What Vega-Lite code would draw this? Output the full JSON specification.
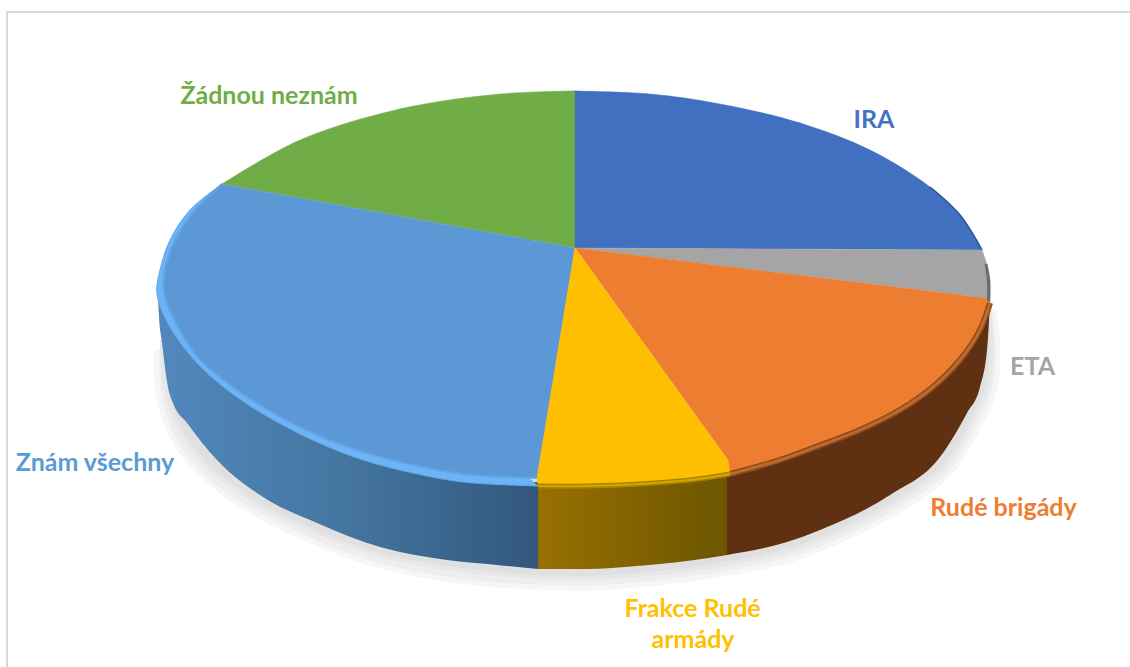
{"$schema":"https://vega.github.io/schema/vega-lite/v6.json","width":1130,"height":667,"padding":0,"autosize":{"type":"none"},"background":"white","config":{"view":{"stroke":null}},
"datasets":{"outlines":[
{"part":"frame","i":0,"x":138.75,"y":118},{"part":"frame","i":1,"x":-142,"y":118},{"part":"frame","i":2,"x":-142,"y":-209.5},
{"part":"shadowOuter","i":0,"x":-104.5,"y":-51},{"part":"shadowOuter","i":1,"x":-104.25,"y":-71},{"part":"shadowOuter","i":2,"x":-100.75,"y":-94.5},{"part":"shadowOuter","i":3,"x":-92.75,"y":-114.5},{"part":"shadowOuter","i":4,"x":-80.25,"y":-132.5},{"part":"shadowOuter","i":5,"x":-66,"y":-146.5},{"part":"shadowOuter","i":6,"x":-49.5,"y":-158.5},{"part":"shadowOuter","i":7,"x":-32.5,"y":-165.5},{"part":"shadowOuter","i":8,"x":-19.5,"y":-168.5},{"part":"shadowOuter","i":9,"x":-9.25,"y":-169.5},{"part":"shadowOuter","i":10,"x":3,"y":-170},{"part":"shadowOuter","i":11,"x":15.5,"y":-168.5},{"part":"shadowOuter","i":12,"x":28.75,"y":-165.5},{"part":"shadowOuter","i":13,"x":38.75,"y":-162.5},{"part":"shadowOuter","i":14,"x":53.75,"y":-156},{"part":"shadowOuter","i":15,"x":63.75,"y":-148.5},{"part":"shadowOuter","i":16,"x":80,"y":-132.5},{"part":"shadowOuter","i":17,"x":93.75,"y":-112.5},{"part":"shadowOuter","i":18,"x":100.75,"y":-90},{"part":"shadowOuter","i":19,"x":104.5,"y":-73.5},{"part":"shadowOuter","i":20,"x":105.75,"y":-51},{"part":"shadowOuter","i":21,"x":104.5,"y":-31},
{"part":"shadowInner","i":0,"x":-103.25,"y":-46},{"part":"shadowInner","i":1,"x":-102.5,"y":-68.5},{"part":"shadowInner","i":2,"x":-98.75,"y":-91},{"part":"shadowInner","i":3,"x":-90.75,"y":-111},{"part":"shadowInner","i":4,"x":-78.75,"y":-128.5},{"part":"shadowInner","i":5,"x":-64.75,"y":-142},{"part":"shadowInner","i":6,"x":-48.75,"y":-153.5},{"part":"shadowInner","i":7,"x":-32,"y":-160},{"part":"shadowInner","i":8,"x":-19.5,"y":-163},{"part":"shadowInner","i":9,"x":-9.25,"y":-164.5},{"part":"shadowInner","i":10,"x":3,"y":-165},{"part":"shadowInner","i":11,"x":15.5,"y":-163.5},{"part":"shadowInner","i":12,"x":28,"y":-161},{"part":"shadowInner","i":13,"x":38,"y":-158},{"part":"shadowInner","i":14,"x":53,"y":-151.5},{"part":"shadowInner","i":15,"x":62.5,"y":-144.5},{"part":"shadowInner","i":16,"x":78.75,"y":-128.5},{"part":"shadowInner","i":17,"x":92.5,"y":-108.5},{"part":"shadowInner","i":18,"x":99.25,"y":-86},{"part":"shadowInner","i":19,"x":102.75,"y":-71},{"part":"shadowInner","i":20,"x":104.25,"y":-51},{"part":"shadowInner","i":21,"x":103.75,"y":-31},
{"part":"greenCore","i":0,"x":0,"y":0},{"part":"greenCore","i":1,"x":0,"y":78.5},{"part":"greenCore","i":2,"x":-43.75,"y":69.5},{"part":"greenCore","i":3,"x":-88.25,"y":32},
{"part":"Žádnou neznám","i":1,"x":0,"y":78.5},{"part":"Žádnou neznám","i":2,"x":-18.75,"y":77},{"part":"Žádnou neznám","i":3,"x":-43.75,"y":69.5},{"part":"Žádnou neznám","i":4,"x":-68.75,"y":54},{"part":"Žádnou neznám","i":5,"x":-88.25,"y":32},
{"part":"iraCore","i":0,"x":0,"y":0},{"part":"iraCore","i":1,"x":0,"y":78.5},{"part":"iraCore","i":2,"x":56.25,"y":62.5},{"part":"iraCore","i":3,"x":101.75,"y":-1},
{"part":"IRA","i":1,"x":0,"y":78.5},{"part":"IRA","i":2,"x":18.75,"y":77},{"part":"IRA","i":3,"x":36.25,"y":72},{"part":"IRA","i":4,"x":56.25,"y":62.5},{"part":"IRA","i":5,"x":73.75,"y":49},{"part":"IRA","i":6,"x":88.75,"y":30.5},{"part":"IRA","i":7,"x":96.25,"y":16.5},{"part":"IRA","i":8,"x":101.75,"y":-1},
{"part":"iraEdge","i":0,"x":88.75,"y":30.5},{"part":"iraEdge","i":1,"x":96.25,"y":16.5},{"part":"iraEdge","i":2,"x":101.75,"y":-1},
{"part":"etaCore","i":0,"x":0,"y":0},{"part":"etaCore","i":1,"x":101.75,"y":-1},{"part":"etaCore","i":2,"x":103.75,"y":-16},{"part":"etaCore","i":3,"x":103.75,"y":-27.5},{"part":"etaCore","i":4,"x":102.5,"y":-25},
{"part":"ETA","i":1,"x":101.75,"y":-1},{"part":"ETA","i":2,"x":103,"y":-8.5},{"part":"ETA","i":3,"x":103.75,"y":-16},{"part":"ETA","i":4,"x":103.75,"y":-27.5},
{"part":"greyEdge","i":0,"x":102.75,"y":-8},{"part":"greyEdge","i":1,"x":103.35,"y":-16},{"part":"greyEdge","i":2,"x":103.35,"y":-27},
{"part":"orangeCore","i":0,"x":0,"y":0},{"part":"orangeCore","i":1,"x":102.5,"y":-25},{"part":"orangeCore","i":2,"x":103.75,"y":-27.5},{"part":"orangeCore","i":3,"x":81.25,"y":-81},{"part":"orangeCore","i":4,"x":38.75,"y":-113},{"part":"orangeCore","i":5,"x":38.25,"y":-106},
{"part":"Rudé brigády","i":1,"x":103.75,"y":-27.5},{"part":"Rudé brigády","i":2,"x":101.25,"y":-41},{"part":"Rudé brigády","i":3,"x":96.25,"y":-56},{"part":"Rudé brigády","i":4,"x":89.5,"y":-69.5},{"part":"Rudé brigády","i":5,"x":81.25,"y":-81},{"part":"Rudé brigády","i":6,"x":71.25,"y":-91},{"part":"Rudé brigády","i":7,"x":59.5,"y":-100},{"part":"Rudé brigády","i":8,"x":51.25,"y":-106},{"part":"Rudé brigády","i":9,"x":38.75,"y":-113},
{"part":"yellowCore","i":0,"x":0,"y":0},{"part":"yellowCore","i":1,"x":-9.5,"y":-115},{"part":"yellowCore","i":2,"x":-9.25,"y":-119},{"part":"yellowCore","i":3,"x":16.25,"y":-118},{"part":"yellowCore","i":4,"x":38.75,"y":-113},{"part":"yellowCore","i":5,"x":38.25,"y":-106},
{"part":"Frakce Rudé armády","i":1,"x":-9.25,"y":-119},{"part":"Frakce Rudé armády","i":2,"x":3,"y":-119},{"part":"Frakce Rudé armády","i":3,"x":16.25,"y":-118},{"part":"Frakce Rudé armády","i":4,"x":28.75,"y":-116},{"part":"Frakce Rudé armády","i":5,"x":38.75,"y":-113},
{"part":"blueCore","i":0,"x":0,"y":0},{"part":"blueCore","i":1,"x":-88.25,"y":32},{"part":"blueCore","i":2,"x":-86.25,"y":-68.5},{"part":"blueCore","i":3,"x":-9.25,"y":-115},{"part":"blueCore","i":4,"x":-9.5,"y":-115},
{"part":"bevelOuter","i":1,"x":-88.25,"y":32},{"part":"bevelOuter","i":2,"x":-96.25,"y":19},{"part":"bevelOuter","i":3,"x":-101.25,"y":4},{"part":"bevelOuter","i":4,"x":-103.75,"y":-11},{"part":"bevelOuter","i":5,"x":-104.5,"y":-23},{"part":"bevelOuter","i":6,"x":-101.25,"y":-39.5},{"part":"bevelOuter","i":7,"x":-94.5,"y":-57.5},{"part":"bevelOuter","i":8,"x":-86.25,"y":-72},{"part":"bevelOuter","i":9,"x":-76.25,"y":-85},{"part":"bevelOuter","i":10,"x":-64.5,"y":-97},{"part":"bevelOuter","i":11,"x":-53,"y":-106},{"part":"bevelOuter","i":12,"x":-40.5,"y":-112.5},{"part":"bevelOuter","i":13,"x":-28,"y":-117},{"part":"bevelOuter","i":14,"x":-9.25,"y":-119},
{"part":"Znám všechny","i":1,"x":-88.25,"y":32},{"part":"Znám všechny","i":2,"x":-95,"y":19},{"part":"Znám všechny","i":3,"x":-100,"y":4},{"part":"Znám všechny","i":4,"x":-102.75,"y":-13.5},{"part":"Znám všechny","i":5,"x":-102.5,"y":-24.5},{"part":"Znám všechny","i":6,"x":-99.5,"y":-38.5},{"part":"Znám všechny","i":7,"x":-94.5,"y":-54},{"part":"Znám všechny","i":8,"x":-86.25,"y":-68.5},{"part":"Znám všechny","i":9,"x":-76.25,"y":-81.5},{"part":"Znám všechny","i":10,"x":-64.5,"y":-93.5},{"part":"Znám všechny","i":11,"x":-53,"y":-102},{"part":"Znám všechny","i":12,"x":-40.5,"y":-108.5},{"part":"Znám všechny","i":13,"x":-28,"y":-113},{"part":"Znám všechny","i":14,"x":-9.25,"y":-115}
],
"walls":[
{"part":"blueWall","x":-104.25,"y":-24.5,"y2":-24.5},{"part":"blueWall","x":-104,"y":-26,"y2":-34.5},{"part":"blueWall","x":-103.25,"y":-28.5,"y2":-47.5},{"part":"blueWall","x":-101.75,"y":-36,"y2":-69.5},{"part":"blueWall","x":-100.5,"y":-42,"y2":-77.5},{"part":"blueWall","x":-97,"y":-48.5,"y2":-87.5},{"part":"blueWall","x":-89.5,"y":-63.5,"y2":-106},{"part":"blueWall","x":-78,"y":-81,"y2":-124.5},{"part":"blueWall","x":-64.5,"y":-93.5,"y2":-137.5},{"part":"blueWall","x":-48.75,"y":-105,"y2":-149.5},{"part":"blueWall","x":-32,"y":-113.5,"y2":-156},{"part":"blueWall","x":-19.5,"y":-117,"y2":-158.5},{"part":"blueWall","x":-9.25,"y":-117,"y2":-160.5},
{"part":"yellowWall","x":-9.25,"y":-115,"y2":-160.5},{"part":"yellowWall","x":3,"y":-115,"y2":-160.5},{"part":"yellowWall","x":15.5,"y":-114,"y2":-159},{"part":"yellowWall","x":28,"y":-112,"y2":-156.5},{"part":"yellowWall","x":38,"y":-109,"y2":-153.5},
{"part":"orangeWall","x":38,"y":-111,"y2":-153.5},{"part":"orangeWall","x":53,"y":-103.5,"y2":-147},{"part":"orangeWall","x":61.25,"y":-96,"y2":-141},{"part":"orangeWall","x":78.75,"y":-81,"y2":-123.5},{"part":"orangeWall","x":91.25,"y":-63.5,"y2":-104.5},{"part":"orangeWall","x":98,"y":-46,"y2":-82.5},{"part":"orangeWall","x":101.25,"y":-38.5,"y2":-69.5},{"part":"orangeWall","x":103,"y":-31,"y2":-51},{"part":"orangeWall","x":103.75,"y":-27.5,"y2":-27.5}
],
"labels":[
{"label":"IRA","x":74.75,"y":64.25},
{"label":"Žádnou neznám","x":-76.5,"y":76.25},
{"label":"ETA","x":114.375,"y":-59.25},
{"label":"Rudé brigády","x":107.125,"y":-129.75},
{"label":"Frakce Rudé","x":29.4,"y":-180.25},
{"label":"armády","x":29.5,"y":-195.75},
{"label":"Znám všechny","x":-120,"y":-107.25}
]},
"encoding":{
"x":{"field":"x","type":"quantitative","axis":null,"scale":{"domain":[-143.75,138.75],"nice":false,"zero":false}},
"y":{"field":"y","type":"quantitative","axis":null,"scale":{"domain":[-209.5,124],"nice":false,"zero":false}},
"order":{"field":"i","type":"quantitative"}},
"layer":[
{"data":{"name":"outlines"},"transform":[{"filter":{"field":"part","equal":"frame"}}],"mark":{"type":"line","stroke":"#d9d9d9","strokeWidth":2}},
{"data":{"name":"outlines"},"transform":[{"filter":{"field":"part","equal":"shadowOuter"}}],"mark":{"type":"line","interpolate":"catmull-rom","fill":"#eeeeee","stroke":"#f6f6f6","strokeWidth":5}},
{"data":{"name":"outlines"},"transform":[{"filter":{"field":"part","equal":"shadowInner"}}],"mark":{"type":"line","interpolate":"catmull-rom","fill":"#e0e0e0","stroke":"#e7e7e7","strokeWidth":4}},
{"data":{"name":"walls"},"transform":[{"filter":{"field":"part","equal":"orangeWall"}}],"mark":{"type":"area","interpolate":"monotone","fill":"#5f3012"},"encoding":{"order":null,"y2":{"field":"y2"}}},
{"data":{"name":"walls"},"transform":[{"filter":{"field":"part","equal":"yellowWall"}}],"mark":{"type":"area","interpolate":"monotone","fill":{"gradient":"linear","x1":0,"x2":1,"y1":0,"y2":0,"stops":[{"offset":0,"color":"#987000"},{"offset":1,"color":"#6c5600"}]}},"encoding":{"order":null,"y2":{"field":"y2"}}},
{"data":{"name":"walls"},"transform":[{"filter":{"field":"part","equal":"blueWall"}}],"mark":{"type":"area","interpolate":"monotone","fill":{"gradient":"linear","x1":0,"x2":1,"y1":0,"y2":0,"stops":[{"offset":0,"color":"#5288bd"},{"offset":0.5,"color":"#44759f"},{"offset":1,"color":"#32577e"}]}},"encoding":{"order":null,"y2":{"field":"y2"}}},
{"data":{"name":"outlines"},"transform":[{"filter":{"field":"part","equal":"greenCore"}}],"mark":{"type":"line","fill":"#70ad47","stroke":"#70ad47","strokeWidth":0.5}},
{"data":{"name":"outlines"},"transform":[{"filter":{"field":"part","equal":"Žádnou neznám"}}],"mark":{"type":"line","interpolate":"catmull-rom","fill":"#70ad47","stroke":"#70ad47","strokeWidth":0.5}},
{"data":{"name":"outlines"},"transform":[{"filter":{"field":"part","equal":"iraCore"}}],"mark":{"type":"line","fill":"#4170c0","stroke":"#4170c0","strokeWidth":0.5}},
{"data":{"name":"outlines"},"transform":[{"filter":{"field":"part","equal":"IRA"}}],"mark":{"type":"line","interpolate":"catmull-rom","fill":"#4170c0","stroke":"#4170c0","strokeWidth":0.5}},
{"data":{"name":"outlines"},"transform":[{"filter":{"field":"part","equal":"iraEdge"}}],"mark":{"type":"line","interpolate":"catmull-rom","stroke":"#2f5597","strokeWidth":1.5}},
{"data":{"name":"outlines"},"transform":[{"filter":{"field":"part","equal":"etaCore"}}],"mark":{"type":"line","fill":"#a5a5a5","stroke":"#a5a5a5","strokeWidth":0.5}},
{"data":{"name":"outlines"},"transform":[{"filter":{"field":"part","equal":"ETA"}}],"mark":{"type":"line","interpolate":"catmull-rom","fill":"#a5a5a5","stroke":"#a5a5a5","strokeWidth":0.5}},
{"data":{"name":"outlines"},"transform":[{"filter":{"field":"part","equal":"greyEdge"}}],"mark":{"type":"line","interpolate":"catmull-rom","stroke":"#5a5a5a","strokeWidth":3,"opacity":0.75}},
{"data":{"name":"outlines"},"transform":[{"filter":{"field":"part","equal":"orangeCore"}}],"mark":{"type":"line","fill":"#ed7d31","stroke":"#ed7d31","strokeWidth":0.5}},
{"data":{"name":"outlines"},"transform":[{"filter":{"field":"part","equal":"Rudé brigády"}}],"mark":{"type":"line","interpolate":"catmull-rom","fill":"#ed7d31","stroke":"#8a4a1e","strokeWidth":6}},
{"data":{"name":"outlines"},"transform":[{"filter":{"field":"part","equal":"Rudé brigády"}}],"mark":{"type":"line","interpolate":"catmull-rom","stroke":"#bd6a2b","strokeWidth":3}},
{"data":{"name":"outlines"},"transform":[{"filter":{"field":"part","equal":"bevelOuter"}}],"mark":{"type":"line","interpolate":"catmull-rom","fill":"#6cb3f7","stroke":"#62a8ea","strokeWidth":1}},
{"data":{"name":"outlines"},"transform":[{"filter":{"field":"part","equal":"blueCore"}}],"mark":{"type":"line","fill":"#5b98d5","stroke":"#5b98d5","strokeWidth":0.5}},
{"data":{"name":"outlines"},"transform":[{"filter":{"field":"part","equal":"Znám všechny"}}],"mark":{"type":"line","interpolate":"catmull-rom","fill":"#5b98d5","stroke":"#62a5e5","strokeWidth":2}},
{"data":{"name":"outlines"},"transform":[{"filter":{"field":"part","equal":"yellowCore"}}],"mark":{"type":"line","fill":"#fdbf00","stroke":"#fdbf00","strokeWidth":0.5}},
{"data":{"name":"outlines"},"transform":[{"filter":{"field":"part","equal":"Frakce Rudé armády"}}],"mark":{"type":"line","interpolate":"catmull-rom","fill":"#fdbf00","stroke":"#a98400","strokeWidth":5}},
{"data":{"name":"outlines"},"transform":[{"filter":{"field":"part","equal":"Frakce Rudé armády"}}],"mark":{"type":"line","interpolate":"catmull-rom","stroke":"#d6a300","strokeWidth":2}},
{"data":{"name":"labels"},"mark":{"type":"text","font":"Lato","fontWeight":"bold","fontSize":25,"align":"center","baseline":"middle"},"encoding":{"order":null,"text":{"field":"label"},
"color":{"field":"label","type":"nominal","legend":null,"scale":{"domain":["IRA","Žádnou neznám","ETA","Rudé brigády","Frakce Rudé","armády","Znám všechny"],"range":["#4472c4","#70ad47","#a5a5a5","#ed7d31","#ffc000","#ffc000","#5b9bd5"]}}}}
]}
